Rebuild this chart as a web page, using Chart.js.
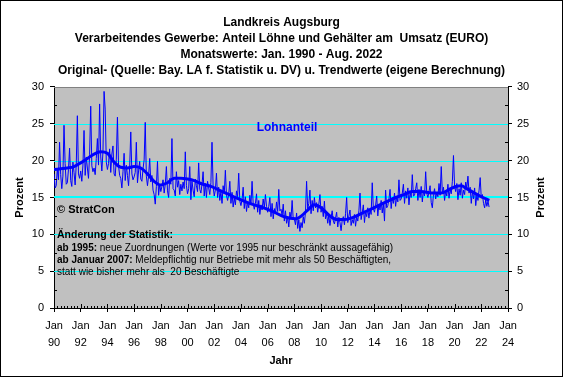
<!DOCTYPE html>
<html><head><meta charset="utf-8">
<script src="https://cdn.jsdelivr.net/npm/chart.js@4/dist/chart.umd.min.js"></script>
<style>html,body{margin:0;padding:0;background:#fff}canvas{display:block}</style>
</head><body>
<canvas id="c" width="563" height="377"></canvas>
<script>
// ---------- DATA ----------
const titleLines = [
  'Landkreis Augsburg',
  'Verarbeitendes Gewerbe: Anteil Löhne und Gehälter am  Umsatz (EURO)',
  'Monatswerte: Jan. 1990 - Aug. 2022',
  'Original- (Quelle: Bay. LA f. Statistik u. DV) u. Trendwerte (eigene Berechnung)'
];
const xTitle = 'Jahr';
const yTitle = 'Prozent';
const seriesLabel = 'Lohnanteil';
const yTicks = [0, 5, 10, 15, 20, 25, 30];
const xTickYears = [1990,1992,1994,1996,1998,2000,2002,2004,2006,2008,2010,2012,2014,2016,2018,2020,2022,2024];
const referenceLevel = 15;

// monthly values (Jan..Dec) per year, percent
const y1990 = [18.2,16.3,16.6,18.9,17.4,22.5,18.1,16.2,17.9,24.8,19.6,16.8];
const y1991 = [17.0,18.8,21.7,17.3,16.5,19.8,18.4,16.7,19.5,26.1,18.2,17.6];
const y1992 = [18.6,17.2,19.4,24.1,18.0,20.5,19.0,17.6,20.8,27.4,19.3,18.5];
const y1993 = [19.0,18.1,20.3,23.0,19.4,27.7,20.5,18.6,21.2,29.4,27.0,19.8];
const y1994 = [18.8,19.6,21.6,18.4,20.9,22.0,18.2,17.9,20.2,25.9,19.3,18.0];
const y1995 = [17.6,16.3,18.5,21.0,17.3,19.4,18.0,16.6,19.1,23.9,18.2,17.4];
const y1996 = [17.8,18.4,22.5,17.0,18.6,19.9,17.5,17.2,18.9,20.1,25.2,17.9];
const y1997 = [16.6,17.9,20.3,17.1,18.0,16.0,15.4,14.1,16.5,19.9,15.3,16.8];
const y1998 = [15.8,16.5,17.4,15.6,16.8,19.2,15.9,15.0,17.6,16.8,23.0,16.2];
const y1999 = [16.0,15.2,18.5,16.4,17.3,15.4,16.8,15.9,17.1,16.2,21.2,16.6];
const y2000 = [15.5,16.2,19.2,14.7,17.2,16.0,15.1,17.5,16.6,15.8,19.7,16.1];
const y2001 = [15.6,16.8,18.5,15.2,16.9,15.0,17.2,16.3,15.4,17.0,22.5,16.5];
const y2002 = [15.2,16.0,18.3,15.0,16.4,14.6,15.8,14.2,16.6,15.5,18.7,15.3];
const y2003 = [14.6,15.4,17.2,14.2,15.7,13.7,14.9,14.0,15.9,15.1,18.3,14.5];
const y2004 = [13.9,14.7,16.4,13.5,15.1,13.1,14.4,13.6,15.3,14.0,17.2,14.2];
const y2005 = [13.4,14.2,15.5,13.0,14.6,12.7,14.0,13.3,14.8,13.6,15.4,13.8];
const y2006 = [13.0,13.8,15.0,12.4,14.2,12.1,13.5,12.8,14.4,13.1,16.1,13.2];
const y2007 = [13.4,12.6,14.1,11.8,13.2,11.5,12.4,11.0,13.0,12.2,14.6,12.0];
const y2008 = [12.1,11.3,12.9,10.8,12.0,10.4,11.6,10.9,12.4,11.5,13.0,17.2];
const y2009 = [13.5,14.2,16.0,12.8,14.6,13.2,15.0,13.6,14.3,13.0,14.1,15.4];
const y2010 = [13.0,13.8,12.4,14.5,12.1,12.8,11.5,12.6,11.2,12.3,13.2,11.8];
const y2011 = [11.4,12.2,13.0,11.0,12.3,11.6,10.5,11.9,12.4,11.3,12.8,15.0];
const y2012 = [11.6,12.5,13.3,11.2,12.0,11.5,12.7,11.1,12.4,11.8,13.2,15.6];
const y2013 = [12.0,12.9,14.0,11.6,13.1,12.4,13.6,12.2,13.4,12.7,17.0,13.5];
const y2014 = [13.0,13.9,15.2,12.5,14.1,13.3,14.6,12.9,14.2,11.8,16.0,13.6];
const y2015 = [13.9,14.8,16.1,13.5,15.0,14.2,15.6,13.8,15.2,14.4,17.4,14.6];
const y2016 = [14.8,15.6,16.8,14.2,15.9,14.9,16.3,14.0,15.7,15.0,18.1,15.2];
const y2017 = [15.3,16.2,17.0,14.6,16.1,15.0,16.5,14.4,15.9,15.2,18.5,15.6];
const y2018 = [15.0,15.8,16.6,14.3,13.6,15.4,16.2,14.8,15.7,15.1,16.9,15.3];
const y2019 = [19.2,15.6,16.4,14.6,15.9,15.2,16.8,14.9,16.1,15.5,17.2,20.7];
const y2020 = [16.5,15.8,16.9,14.7,16.2,15.3,17.0,14.9,16.0,15.4,17.1,16.3];
const y2021 = [17.9,15.6,16.4,14.2,15.8,14.8,16.3,13.9,15.3,14.6,16.0,17.7];
const y2022 = [14.9,15.4,14.2,13.6,14.7,13.8,14.5,13.7];
const firstYear = 1990;
const yearSeries = [y1990,y1991,y1992,y1993,y1994,y1995,y1996,y1997,y1998,y1999,
  y2000,y2001,y2002,y2003,y2004,y2005,y2006,y2007,y2008,y2009,
  y2010,y2011,y2012,y2013,y2014,y2015,y2016,y2017,y2018,y2019,
  y2020,y2021,y2022];

// trend values (time in years, percent)
const trendX = [1990.0,1990.5,1991.0,1991.5,1992.0,1992.5,1993.0,1993.5,1994.0,1994.5,1995.0,1995.5,1996.0,1996.5,1997.0,1997.5,1998.0,1998.5,1999.0,1999.5,2000.0,2000.5,2001.0,2001.75,2002.5,2003.0,2003.7,2004.5,2005.0,2005.7,2006.5,2007.2,2008.1,2008.6,2009.0,2009.5,2010.0,2010.6,2011.2,2011.8,2012.4,2013.0,2013.7,2014.4,2015.0,2015.6,2016.2,2016.8,2017.5,2018.3,2019.0,2019.6,2020.1,2020.5,2020.9,2021.4,2022.0,2022.6];
const trendY = [18.8,18.9,19.0,19.2,19.7,20.3,20.9,21.2,21.0,19.8,19.1,19.0,19.2,19.0,18.2,17.2,16.7,17.0,17.6,17.6,17.5,17.3,16.9,16.5,15.9,15.5,14.9,14.3,14.0,13.6,13.0,12.4,12.1,12.6,13.3,14.0,13.6,12.6,12.0,12.0,12.3,12.8,13.4,14.0,14.5,15.0,15.4,15.8,15.8,15.6,15.6,16.1,16.5,16.6,16.2,15.7,15.1,14.6];

const notes = [
  {parts:[['bold','© StratCon']], y:210, size:11},
  {parts:[['bold','Änderung der Statistik:']], y:235, size:10.5},
  {parts:[['bold','ab 1995:'],['reg',' neue Zuordnungen (Werte vor 1995 nur beschränkt aussagefähig)']], y:248, size:10},
  {parts:[['bold','ab Januar 2007:'],['reg',' Meldepflichtig nur Betriebe mit mehr als 50 Beschäftigten,']], y:260, size:10},
  {parts:[['reg','statt wie bisher mehr als  20 Beschäftigte']], y:272, size:10}
];

// ---------- BUILD ----------
const monthly = [];
yearSeries.forEach((arr, i) => arr.forEach((v, m) => monthly.push({x: firstYear + i + m/12, y: v})));
const trend = trendX.map((x, i) => ({x, y: trendY[i]}));

const FONT = '"Liberation Sans", Arial, sans-serif';
const BLUE = '#0000FF';

const decor = {
  id: 'decor',
  beforeDraw(chart) {
    const {ctx, chartArea: a} = chart;
    ctx.save();
    ctx.fillStyle = '#FFFFFF';
    ctx.fillRect(0, 0, chart.width, chart.height);
    ctx.fillStyle = '#C0C0C0';
    ctx.fillRect(a.left, a.top, a.right - a.left, a.bottom - a.top);
    ctx.restore();
  },
  beforeDatasetsDraw(chart) {
    const {ctx, chartArea: a, scales} = chart;
    ctx.save();
    ctx.strokeStyle = '#00FFFF';
    yTicks.forEach(v => {
      if (v <= scales.y.min || v >= scales.y.max) return;
      const py = Math.round(scales.y.getPixelForValue(v));
      const w = v === referenceLevel ? 2 : 1;
      ctx.lineWidth = w;
      ctx.beginPath();
      const yy = w === 1 ? py + 0.5 : py;
      ctx.moveTo(a.left, yy); ctx.lineTo(a.right, yy);
      ctx.stroke();
    });
    ctx.restore();
  },
  afterDraw(chart) {
    const {ctx, chartArea: a, scales} = chart;
    ctx.save();
    ctx.strokeStyle = '#808080';
    ctx.lineWidth = 1;
    ctx.beginPath(); ctx.moveTo(a.left, a.top + 0.5); ctx.lineTo(a.right, a.top + 0.5); ctx.stroke();
    ctx.strokeStyle = '#000';
    const xs = scales.x, yl = scales.y;
    ctx.beginPath();
    for (let t = xs.min; t <= xs.max + 1e-9; t += 0.25) {
      const px = Math.round(xs.getPixelForValue(t)) + 0.5;
      const major = Math.abs((t - xs.min) / 2 - Math.round((t - xs.min) / 2)) < 1e-6;
      ctx.moveTo(px, a.bottom); ctx.lineTo(px, a.bottom - (major ? 4 : 2));
    }
    for (let v = 2.5; v < 30; v += 5) {
      const py = Math.round(yl.getPixelForValue(v)) + 0.5;
      ctx.moveTo(a.left, py); ctx.lineTo(a.left + 3, py);
      ctx.moveTo(a.right, py); ctx.lineTo(a.right - 3, py);
    }
    ctx.stroke();
    ctx.fillStyle = '#000';
    ctx.font = 'bold 11px ' + FONT;
    ctx.textAlign = 'center'; ctx.textBaseline = 'middle';
    ctx.translate(541, (a.top + a.bottom) / 2);
    ctx.rotate(-Math.PI / 2);
    ctx.fillText(yTitle, 0, 0);
    ctx.restore();

    ctx.save();
    ctx.fillStyle = BLUE;
    ctx.font = 'bold 12px ' + FONT;
    ctx.textAlign = 'center'; ctx.textBaseline = 'middle';
    ctx.fillText(seriesLabel, 287, 128);
    ctx.fillStyle = '#000';
    ctx.textAlign = 'left';
    notes.forEach(n => {
      let x = 57;
      n.parts.forEach(([w, s]) => {
        ctx.font = (w === 'bold' ? 'bold ' : '') + n.size + 'px ' + FONT;
        ctx.fillText(s, x, n.y);
        x += ctx.measureText(s).width;
      });
    });
    ctx.strokeStyle = '#000';
    ctx.strokeRect(0.5, 0.5, chart.width - 1, chart.height - 1);
    ctx.restore();
  }
};

new Chart(document.getElementById('c'), {
  type: 'line',
  data: {
    datasets: [
      {label: 'Original', data: monthly, borderColor: BLUE, borderWidth: 1, pointRadius: 0, tension: 0, order: 2},
      {label: 'Trend', data: trend, borderColor: BLUE, borderWidth: 3, pointRadius: 0, cubicInterpolationMode: 'monotone', order: 1}
    ]
  },
  options: {
    responsive: false, animation: false, devicePixelRatio: 1,
    layout: {padding: 0},
    plugins: {
      legend: {display: false}, tooltip: {enabled: false},
      title: {display: true, text: titleLines, color: '#000',
        font: {family: FONT, size: 12, weight: 'bold', lineHeight: 1.3333},
        padding: {top: 15, bottom: 8}}
    },
    scales: {
      x: {type: 'linear', position: 'bottom', min: 1990, max: 2024,
        afterBuildTicks: s => { s.ticks = xTickYears.map(v => ({value: v})); },
        afterFit: s => { s.height = 69; },
        ticks: {color: '#000', font: {family: FONT, size: 11, lineHeight: 1.55}, padding: 5, maxRotation: 0, autoSkip: false,
          callback: v => ['Jan', String(v % 100).padStart(2, '0')]},
        grid: {drawOnChartArea: false, color: '#000', tickLength: 4},
        border: {color: '#000'},
        title: {display: true, text: xTitle, color: '#000', font: {family: FONT, size: 11, weight: 'bold'}, padding: {top: 0, bottom: 9}}
      },
      y: {position: 'left', min: 0, max: 30,
        afterBuildTicks: s => { s.ticks = yTicks.map(v => ({value: v})); },
        afterFit: s => { s.width = 54; },
        ticks: {color: '#000', font: {family: FONT, size: 11}, padding: 6},
        grid: {drawOnChartArea: false, color: '#000', tickLength: 4},
        border: {color: '#000'},
        title: {display: true, text: yTitle, color: '#000', font: {family: FONT, size: 11, weight: 'bold'}, padding: {top: 13, bottom: 0}}
      },
      y2: {position: 'right', min: 0, max: 30,
        afterBuildTicks: s => { s.ticks = yTicks.map(v => ({value: v})); },
        afterFit: s => { s.width = 55; },
        ticks: {color: '#000', font: {family: FONT, size: 11}, padding: 5},
        grid: {drawOnChartArea: false, color: '#000', tickLength: 4},
        border: {color: '#000'}
      }
    }
  },
  plugins: [decor]
});
</script>
</body></html>
